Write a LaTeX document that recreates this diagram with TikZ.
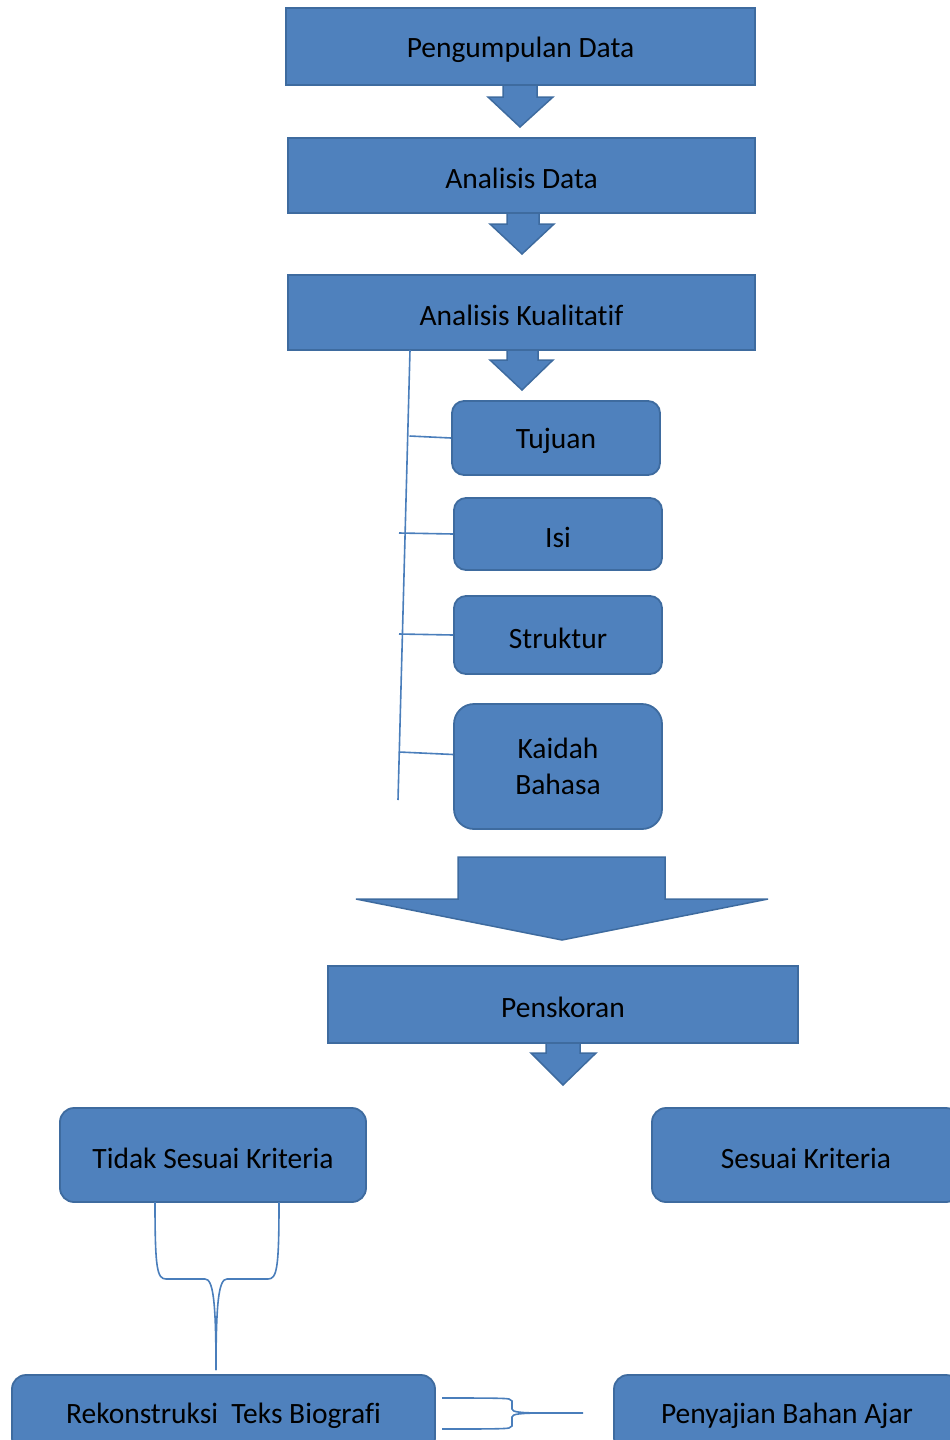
\documentclass[tikz,border=0pt]{standalone}
\usepackage{fontspec}
\setmainfont{Carlito}[Ligatures=NoCommon]
\usetikzlibrary{calc}
\definecolor{boxfill}{HTML}{4F81BD}
\definecolor{boxedge}{HTML}{3E6B9F}
\definecolor{linecol}{HTML}{4A7EBB}
\newcommand{\lowertext}[2][3pt]{\raisebox{-#1}[\height][\depth]{#2}}
\begin{document}
\begin{tikzpicture}[x=1pt,y=-1pt,
  box/.style={draw=boxedge,fill=boxfill,line width=1.8pt,inner sep=0pt,align=center,
    font=\fontsize{29.5}{36}\selectfont},
  rbox/.style={box,rounded corners=12pt},
  blockarrow/.style={draw=boxedge,fill=boxfill,line width=1.5pt,line join=miter},
  conn/.style={draw=linecol,line width=1.6pt}]
\useasboundingbox (0,0) rectangle (950,1440);
\clip (0,0) rectangle (950,1440);
% main boxes
\node[box,minimum width=469pt,minimum height=77pt] (b1) at (520.5,46.5) {\lowertext{Pengumpulan Data}};
\node[box,minimum width=467pt,minimum height=75pt] (b2) at (521.5,175.5) {\lowertext{Analisis Data}};
\node[box,minimum width=467pt,minimum height=75pt] (b3) at (521.5,312.5) {\lowertext{Analisis Kualitatif}};
\node[rbox,minimum width=208pt,minimum height=74pt] (tujuan) at (556,438) {\lowertext{Tujuan}};
\node[rbox,minimum width=208pt,minimum height=72pt] (isi) at (558,534) {\lowertext{Isi}};
\node[rbox,minimum width=208pt,minimum height=78pt] (struktur) at (558,635) {\lowertext{Struktur}};
\node[rbox,rounded corners=20pt,minimum width=208pt,minimum height=125pt] (kaidah) at (558,766.5) {Kaidah\\Bahasa};
\node[box,minimum width=470pt,minimum height=77pt] (skor) at (563,1004.5) {\lowertext{Penskoran}};
\node[rbox,rounded corners=14pt,minimum width=306pt,minimum height=94pt] (tidak) at (213,1155) {\lowertext{Tidak Sesuai Kriteria}};
\node[rbox,rounded corners=14pt,minimum width=308pt,minimum height=94pt] (sesuai) at (806,1155) {\lowertext{Sesuai Kriteria}};
\node[rbox,rounded corners=14pt,minimum width=423pt,minimum height=77pt] (rekon) at (223.5,1413.5) {\lowertext[2pt]{Rekonstruksi\ \ Teks Biografi}};
\node[rbox,rounded corners=14pt,minimum width=346pt,minimum height=77pt] (sajian) at (787,1413.5) {\lowertext[2pt]{Penyajian Bahan Ajar}};
% block arrows
\draw[blockarrow] (503,85) -- (537,85) -- (537,97) -- (553,97) -- (520,127) -- (488,97) -- (503,97) -- cycle;
\draw[blockarrow] (507,213) -- (539,213) -- (539,224) -- (554,224) -- (522,254) -- (490,224) -- (507,224) -- cycle;
\draw[blockarrow] (507,350) -- (538,350) -- (538,360) -- (553,360) -- (522,390) -- (490,360) -- (507,360) -- cycle;
\draw[blockarrow] (458,857) -- (665,857) -- (665,899) -- (768,899) -- (562,940) -- (356,899) -- (458,899) -- cycle;
\draw[blockarrow] (546,1043) -- (580,1043) -- (580,1053) -- (596,1053) -- (563,1085) -- (531,1053) -- (546,1053) -- cycle;
% tree line
\coordinate (vtop) at (410,350);
\coordinate (vbot) at (398,800);
\draw[conn] (vtop) -- (vbot);
\coordinate (t1) at (409.5,436);
\coordinate (t2) at (399,533);
\coordinate (t3) at (399,634);
\coordinate (t4) at (399,752);
\draw[conn] (t1) -- (tujuan.west);
\draw[conn] (t2) -- (isi.west);
\draw[conn] (t3) -- (struktur.west);
\draw[conn] (t4) -- ($(kaidah.west)+(0,-12)$);
% bracket below Tidak Sesuai Kriteria
\coordinate (bl) at (155,1202);
\coordinate (br) at (279,1202);
\coordinate (bm) at (216,1370);
\draw[conn] (bl) .. controls (155,1268) and (157,1279) .. (166,1279) -- (205,1279)
  .. controls (213,1279) and (216,1300) .. (bm);
\draw[conn] (br) .. controls (279,1268) and (277,1279) .. (268,1279) -- (227,1279)
  .. controls (219,1279) and (216,1300) .. (bm);
% bracket between Rekonstruksi and Penyajian
\coordinate (rt) at (442,1398);
\coordinate (rb) at (442,1429);
\coordinate (re) at (583,1413);
\draw[conn] (rt) .. controls (480,1398) and (505,1398) .. (509,1399) -- (512,1401) -- (512,1409)
  .. controls (512,1412) and (520,1413) .. (545,1413) -- (re);
\draw[conn] (rb) .. controls (480,1429) and (505,1429) .. (509,1428) -- (512,1426) -- (512,1417)
  .. controls (512,1414) and (520,1413) .. (545,1413);
\end{tikzpicture}
\end{document}
